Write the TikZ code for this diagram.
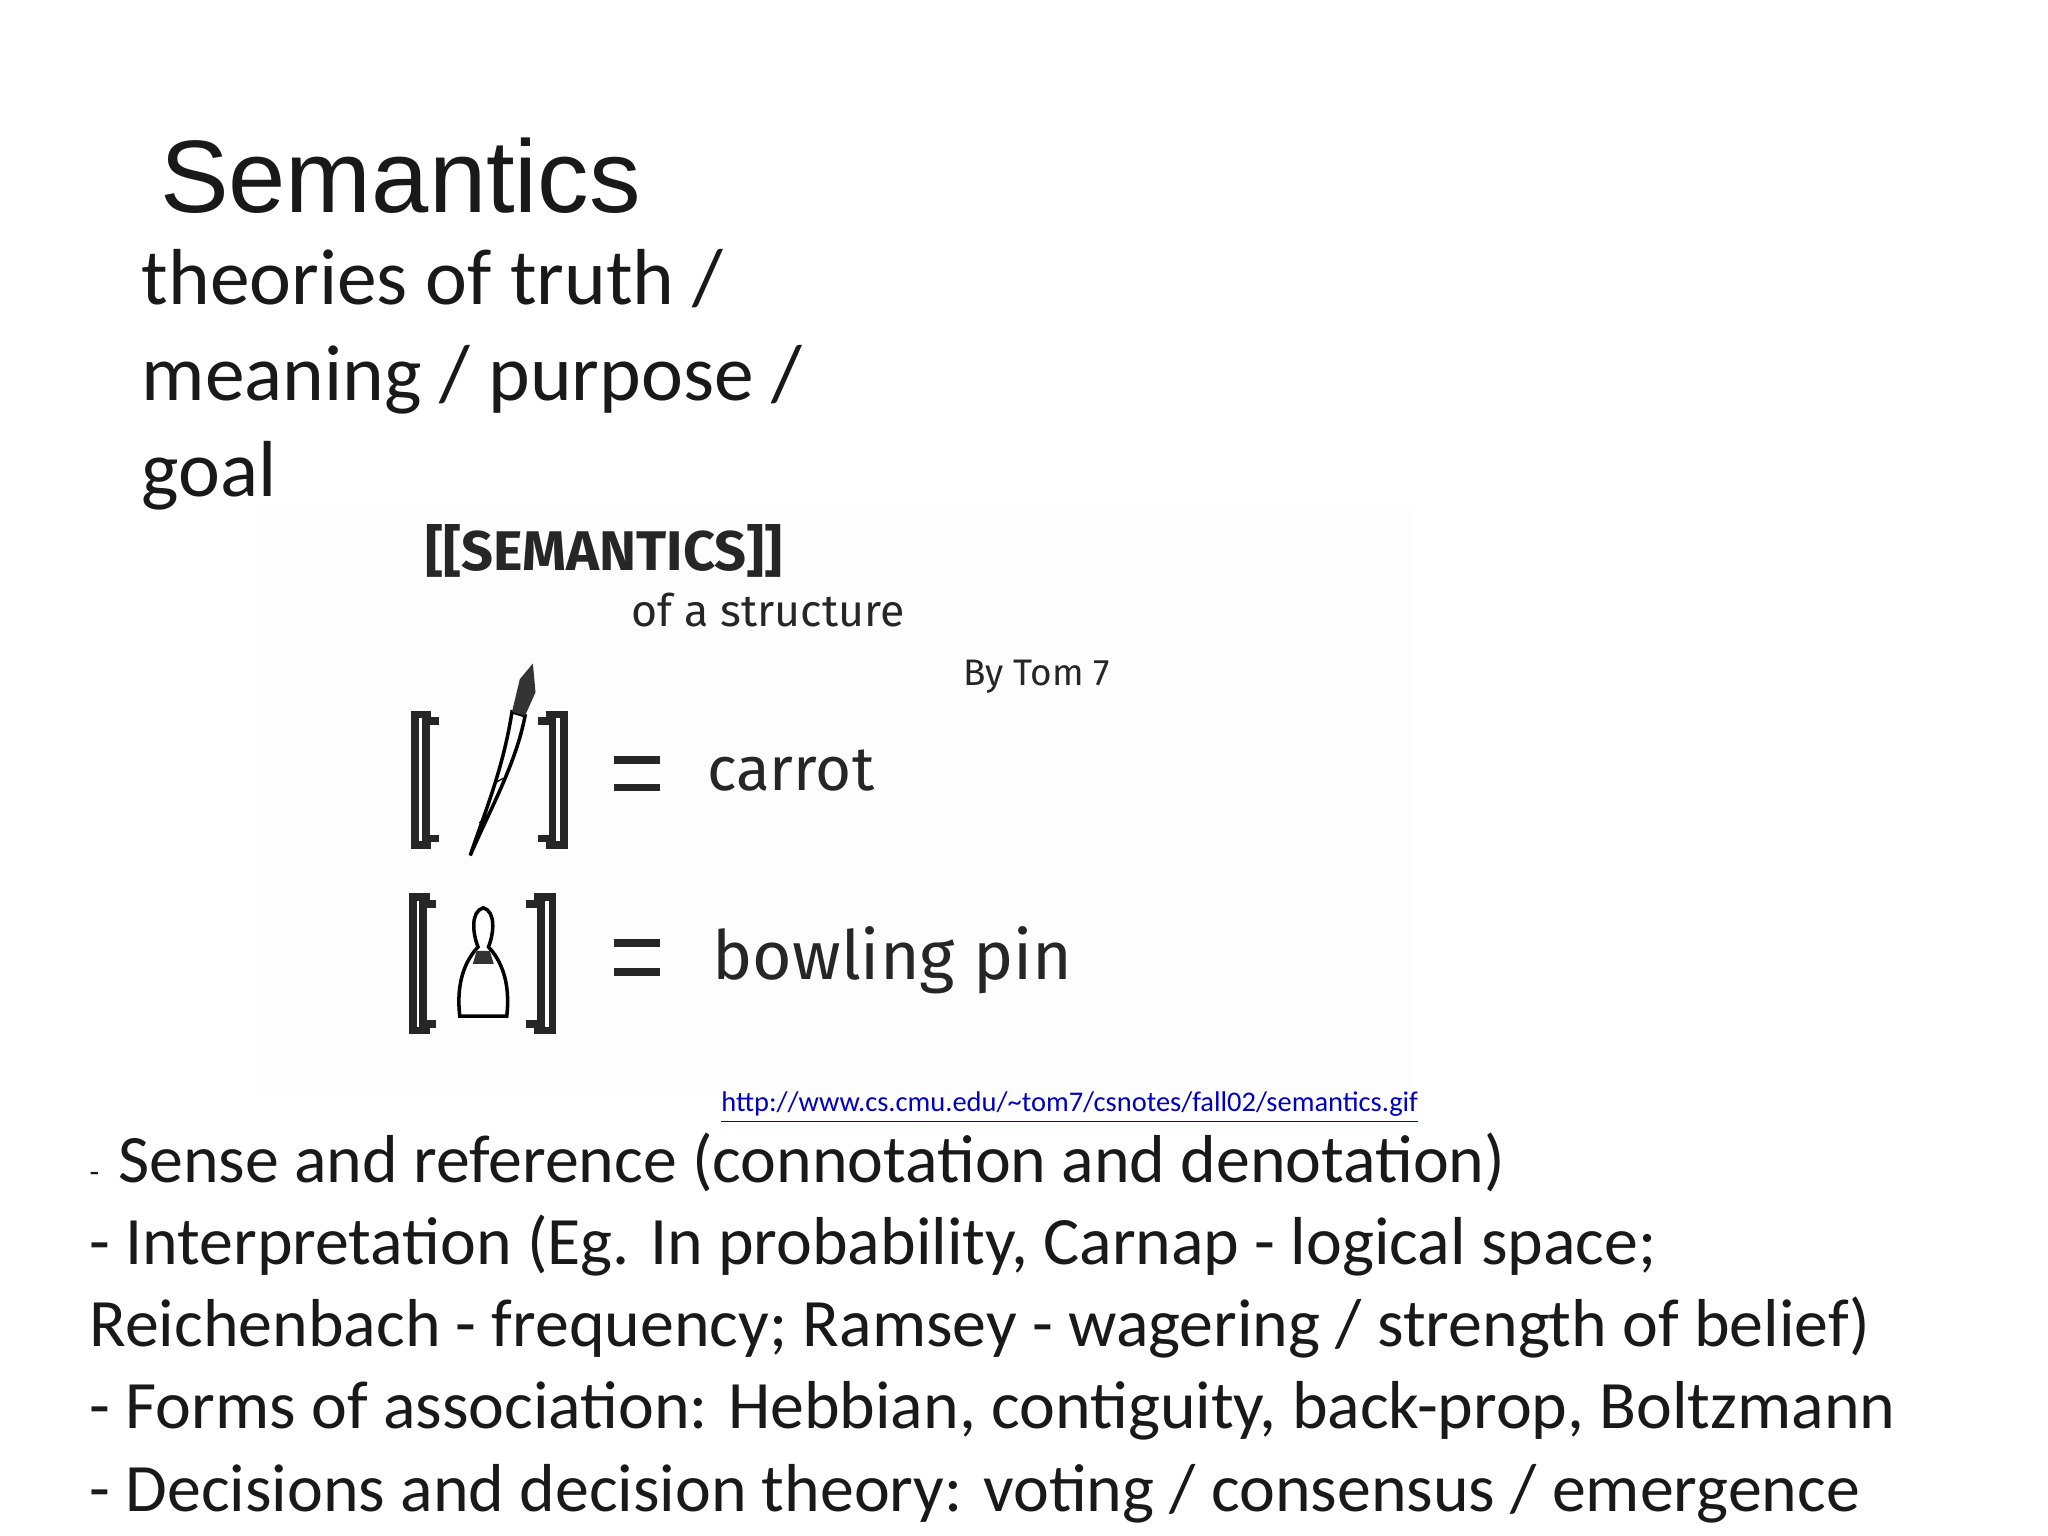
\documentclass[tikz,border=0pt]{standalone}
\usepackage{fontspec}
\setmainfont{Carlito}
\newfontfamily\arialf{Liberation Sans}
\newfontfamily\handf{Fira Sans}
\begin{document}
\begin{tikzpicture}[x=0.01306cm,y=-0.01306cm,
  txt/.style={anchor=base west,inner sep=0pt,text=black!90},
  hand/.style={anchor=base west,inner sep=0pt,font=\handf,text=black!85},
  brk/.style={line width=2.2pt,black!85}]
\useasboundingbox[fill=white] (0,0) rectangle (1568,1176);
\fill[black!0.6] (195,390) rectangle (1080,840);
\node[txt,font=\arialf\fontsize{29.3}{34}\selectfont] (title) at (122,163) {Semantics};
\node[txt,font=\fontsize{22.6}{27}\selectfont] (s1) at (108,233) {theories of truth /};
\node[txt,font=\fontsize{22.6}{27}\selectfont] (s2) at (108,307) {meaning / purpose /};
\node[txt,font=\fontsize{22.6}{27}\selectfont] (s3) at (108,380) {goal};
% hand-drawn image
\node[hand,font=\handf\bfseries\fontsize{15.9}{18}\selectfont] (hd) at (325,437) {[[SEMANTICS]]};
\node[hand,font=\handf\fontsize{12.7}{15}\selectfont] (of) at (483,480) {of a structure};
\node[hand,font=\handf\fontsize{10.5}{12}\selectfont] (by) at (737,525) {By Tom 7};
% row 1 brackets
\draw[brk] (330,547) -- (318,547) -- (318,647) -- (330,647);
\draw[brk] (336,552) -- (326,552) -- (326,642) -- (336,642);
\draw[brk] (418,547) -- (432,547) -- (432,647) -- (418,647);
\draw[brk] (412,552) -- (423,552) -- (423,642) -- (412,642);
% carrot
\draw[line width=1pt,fill=white] (392,545) .. controls (385,590) and (370,625) .. (360,655) .. controls (375,620) and (395,585) .. (402,548) -- cycle;
\fill[black!80] (392,545) -- (398,520) -- (408,508) -- (410,530) -- (402,548) -- cycle;
\draw (367,630) -- (373,625) (378,600) -- (385,596);
\draw[brk] (470,582) -- (505,582) (470,603) -- (505,603);
\node[hand,font=\handf\fontsize{17.6}{21}\selectfont] (carrot) at (541,605) {carrot};
% row 2 brackets
\draw[brk] (329,687) -- (316,687) -- (316,789) -- (329,789);
\draw[brk] (334,692) -- (324,692) -- (324,784) -- (334,784);
\draw[brk] (409,687) -- (423,687) -- (423,789) -- (409,789);
\draw[brk] (403,692) -- (414,692) -- (414,784) -- (403,784);
% bowling pin
\draw[line width=1pt,fill=white] (370,695) .. controls (360,698) and (362,715) .. (366,725)
  .. controls (352,740) and (350,760) .. (352,778) -- (388,778)
  .. controls (390,760) and (388,740) .. (374,725) .. controls (378,715) and (380,698) .. (370,695) -- cycle;
\fill[black!80] (365,728) -- (375,728) -- (378,738) -- (362,738) -- cycle;
\draw[brk] (470,722) -- (505,722) (470,744) -- (505,744);
\node[hand,font=\handf\fontsize{19.3}{23}\selectfont] (pin) at (545,750) {bowling pin};
\node[anchor=base,inner sep=0pt,font=\fontsize{8.1}{10}\selectfont,text=blue!75!black] (url) at (819,851) {\underline{http://www.cs.cmu.edu/\textasciitilde tom7/csnotes/fall02/semantics.gif}};
% bullets
\begin{scope}[font=\fontsize{19.3}{23}\selectfont]
\node[txt,font=\fontsize{9}{11}\selectfont] (d1) at (68,905) {-};
\node[txt] (b1) at (90,905) {Sense and reference (connotation and denotation)};
\node[txt] (b2) at (68,968) {- Interpretation (Eg. In probability, Carnap - logical space;};
\node[txt] (b3) at (68,1031) {Reichenbach - frequency; Ramsey - wagering / strength of belief)};
\node[txt] (b4) at (68,1094) {- Forms of association: Hebbian, contiguity, back-prop, Boltzmann};
\node[txt] (b5) at (68,1157) {- Decisions and decision theory: voting / consensus / emergence};
\end{scope}
\end{tikzpicture}
\end{document}
